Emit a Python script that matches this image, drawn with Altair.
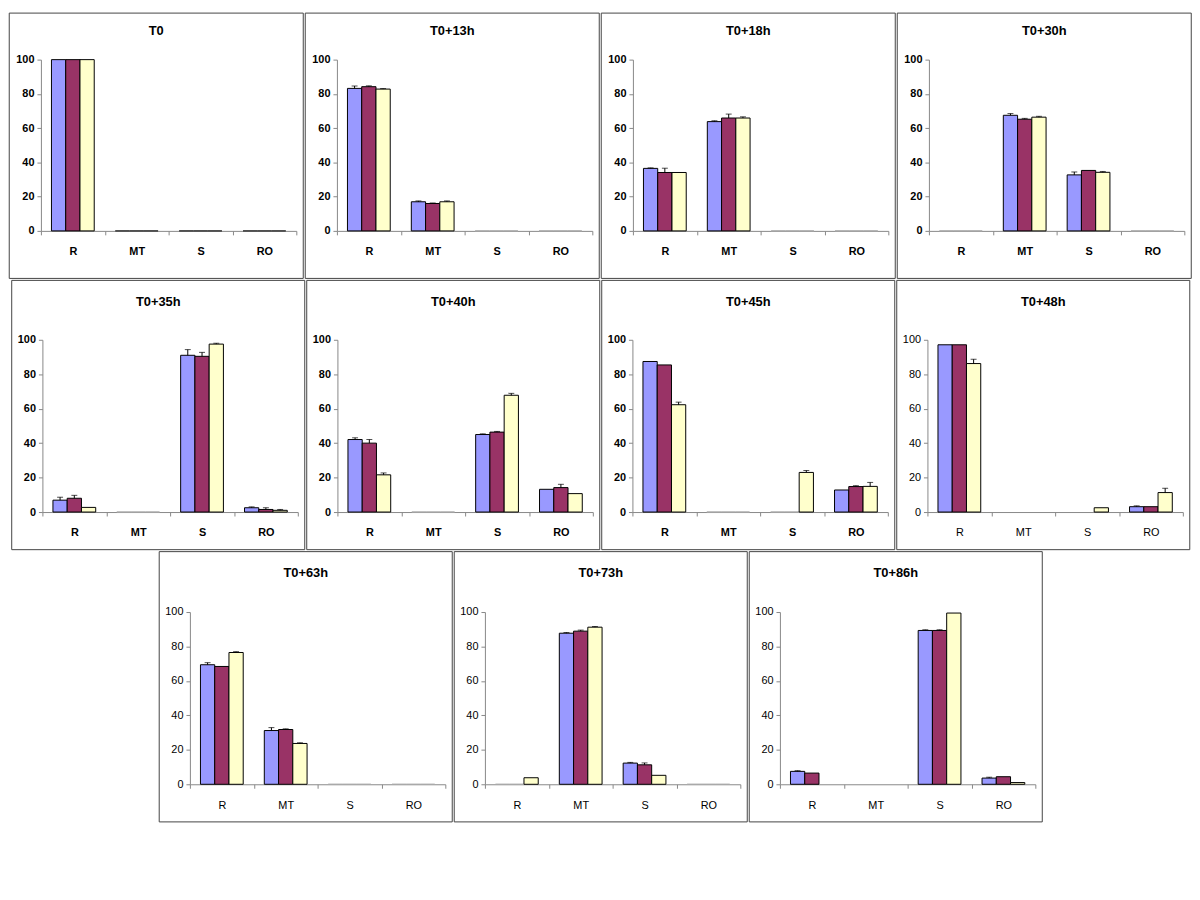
import altair as alt
import pandas as pd

titles = ["T0", "T0+13h", "T0+18h", "T0+30h", "T0+35h", "T0+40h",
          "T0+45h", "T0+48h", "T0+63h", "T0+73h", "T0+86h"]
categories = ["R", "MT", "S", "RO"]
series = ["Series 1", "Series 2", "Series 3"]
colors = ["#9999FF", "#993366", "#FFFFCC"]
y_ticks = [0, 20, 40, 60, 80, 100]

# values per panel in order R, MT, S, RO (None = not shown)
blue = [
    [100, 0, 0, 0], [83.2, 17.0, 0, 0], [36.5, 63.8, 0, 0], [0, 67.5, 32.7, 0],
    [6.9, 0, 91.0, 2.5], [42.1, 0, 45.0, 13.2], [87.4, 0, 0, 12.8],
    [97.1, None, None, 3.1], [69.4, 31.2, 0, 0], [0, 87.7, 12.3, 0],
    [7.5, None, 89.3, 3.6],
]
plum = [
    [100, 0, 0, 0], [84.2, 16.0, 0, 0], [34.1, 65.9, 0, 0], [0, 65.2, 35.3, 0],
    [8.0, 0, 90.4, 1.5], [40.0, 0, 46.4, 14.2], [85.4, 0, 0, 14.8],
    [97.1, None, None, 3.1], [68.4, 31.8, 0, 0], [0, 88.9, 11.3, 0],
    [6.5, None, 89.3, 4.4],
]
yellow = [
    [100, 0, 0, 0], [82.8, 17.0, 0, 0], [34.1, 65.9, 0, 0], [0, 66.4, 34.2, 0],
    [2.7, 0, 97.5, 1.0], [21.6, 0, 67.8, 10.7], [62.3, 0, 23.0, 14.9],
    [86.2, None, 2.5, 11.3], [76.5, 23.7, 0, 0], [3.8, 91.2, 5.2, 0],
    [None, None, 99.4, 1.0],
]
blue_err = [
    [0, 0, 0, 0], [1.4, 0.5, 0, 0], [0.3, 0.5, 0, 0], [0, 1.0, 1.7, 0],
    [1.7, 0, 3.3, 0.5], [1.0, 0, 0.4, 0], [0, 0, 0, 0], [0, 0, 0, 0.5],
    [1.2, 1.7, 0, 0], [0, 0.4, 0.4, 0], [0.4, 0, 0.4, 0.5],
]
plum_err = [
    [0, 0, 0, 0], [0.5, 0.3, 0, 0], [2.5, 2.3, 0, 0], [0, 0.5, 0, 0],
    [1.7, 0, 2.3, 1.0], [2.1, 0, 0.4, 1.9], [0, 0, 0, 0.5], [0, 0, 0, 0],
    [0, 0.4, 0, 0], [0, 0.6, 1.1, 0], [0, 0, 0.4, 0],
]
yellow_err = [
    [0, 0, 0, 0], [0.3, 0.5, 0, 0], [0, 0.7, 0, 0], [0, 0.5, 0.5, 0],
    [0, 0, 0.5, 0.5], [1.1, 0, 1.1, 0], [1.5, 0, 1.1, 2.3], [2.5, 0, 0, 2.5],
    [0.5, 0.4, 0, 0], [0, 0.4, 0, 0], [0, 0, 0, 0],
]

# per-row layout (left, top, plot width, plot height, right, bottom, title offset)
row_layout = [
    (32, 47, 258, 173, 7, 48, 18),
    (31, 60, 258, 174, 7, 38, 22),
    (31, 61, 258, 174, 7, 38, 22),
]

FONT = "Liberation Sans"


def panel(i, row):
    left, top, W, H, right, bottom, toff = row_layout[row]
    bold = "bold" if i < 7 else "normal"
    zero_stroke = "#333" if i == 0 else "#aaa"
    rows = []
    for s_name, vals, errs in zip(series, [blue, plum, yellow],
                                  [blue_err, plum_err, yellow_err]):
        for c, v, e in zip(categories, vals[i], errs[i]):
            if v is None:
                continue
            rows.append({"cat": c, "series": s_name, "val": v,
                         "err": e, "top": v + e})
    df = pd.DataFrame(rows)
    one = pd.DataFrame({"t": [titles[i]]})

    x = alt.X("cat:N", sort=categories,
              scale=alt.Scale(domain=categories, paddingInner=0, paddingOuter=0),
              axis=alt.Axis(title=None, labelAngle=0, tickBand="extent",
                            tickSize=4, labelPadding=11, domainColor="#888",
                            tickColor="#888", labelFont=FONT, labelFontSize=11,
                            labelFontWeight=bold, labelColor="black"))
    xo = alt.XOffset("series:N", sort=series,
                     scale=alt.Scale(domain=series, paddingInner=0, paddingOuter=0.74))
    yscale = alt.Scale(domain=[0, 100], nice=False, zero=True)
    yaxis = alt.Axis(title=None, values=y_ticks, labelOverlap=False,
                     tickSize=4, labelPadding=3, domainColor="#888",
                     tickColor="#888", labelFont=FONT, labelFontSize=11,
                     labelFontWeight=bold, labelColor="black", grid=False)
    base = alt.Chart(df).encode(x=x, xOffset=xo)

    bars = base.mark_bar(strokeWidth=1).encode(
        y=alt.Y("val:Q", scale=yscale, axis=yaxis),
        color=alt.Color("series:N", scale=alt.Scale(domain=series, range=colors),
                        legend=None),
        stroke=alt.condition("datum.val == 0", alt.value(zero_stroke),
                             alt.value("black")),
    )
    eb = base.transform_filter("datum.err > 0")
    err = eb.mark_rule(color="black", strokeWidth=1).encode(
        y=alt.Y("val:Q", scale=yscale, axis=yaxis), y2="top:Q")
    cap = eb.mark_tick(color="black", thickness=1, size=6).encode(
        y=alt.Y("top:Q", scale=yscale, axis=yaxis))

    border = alt.Chart(one).mark_rect(fill="white", fillOpacity=0,
                                      stroke="#444", strokeWidth=1).encode(
        x=alt.value(-left), x2=alt.value(W + right),
        y=alt.value(-top), y2=alt.value(H + bottom))
    title = alt.Chart(one).mark_text(font="Liberation Sans", fontSize=13,
                                     fontWeight="bold", baseline="middle",
                                     align="center", color="black").encode(
        text="t:N", x=alt.value((W + right - left) / 2), y=alt.value(-top + toff))

    return alt.layer(border, bars, err, cap, title).properties(width=W, height=H)


panels = [panel(i, 0 if i < 4 else (1 if i < 8 else 2)) for i in range(11)]
row1 = alt.hconcat(*panels[0:4], spacing=0)
row2 = alt.hconcat(*panels[4:8], spacing=0)
row3 = alt.hconcat(*panels[8:11], spacing=0)

chart = alt.vconcat(row1, row2, row3, spacing=0, center=True).properties(
    padding=0).configure_view(strokeWidth=0).configure_axis(labelOverlap=False)

chart.save("out.html", embed_options={"renderer": "svg", "actions": False})
